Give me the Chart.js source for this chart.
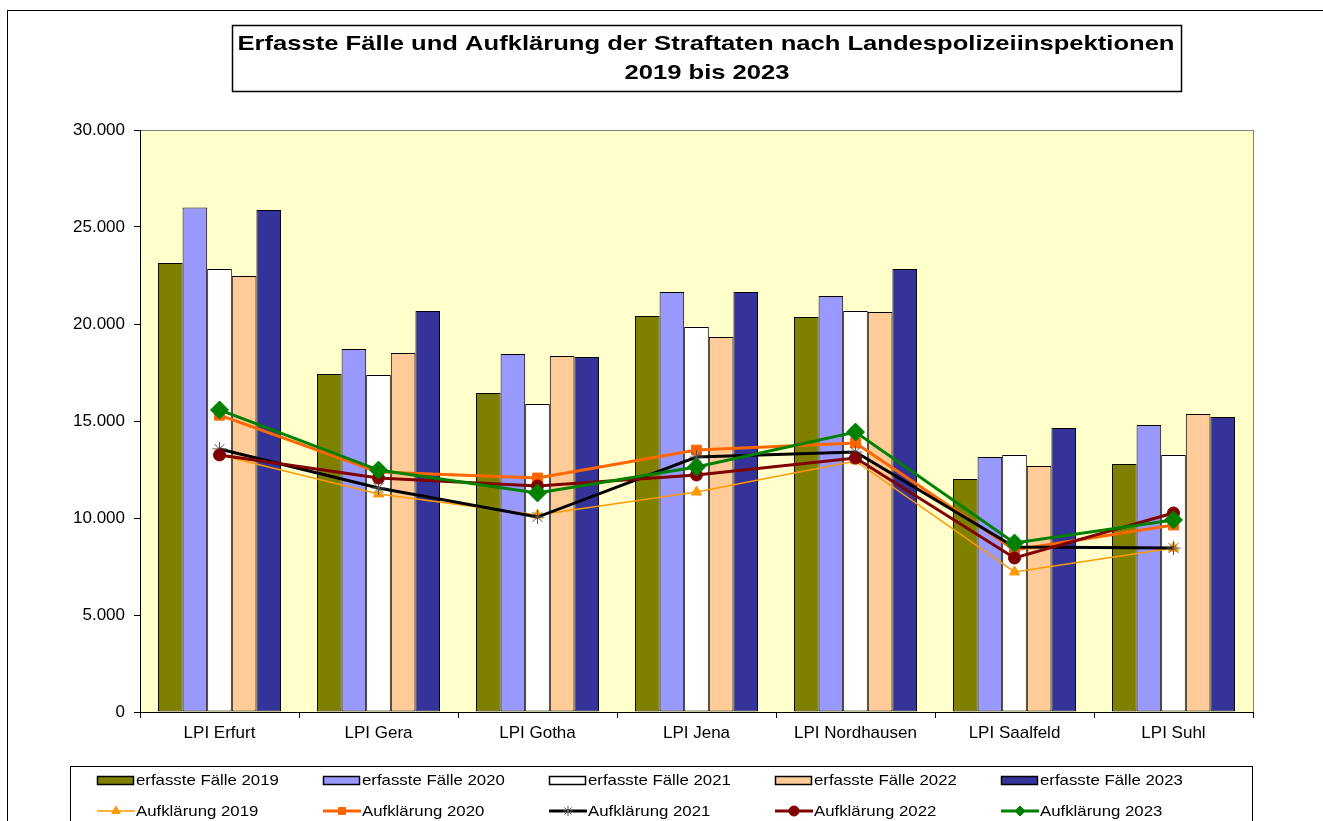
<!DOCTYPE html>
<html>
<head>
<meta charset="utf-8">
<script src="https://cdn.jsdelivr.net/npm/chart.js@4/dist/chart.umd.min.js"></script>
<style>
  body { margin: 0; background: #fff; }
  #wrap { position: relative; width: 1323px; height: 821px; }
</style>
</head>
<body>
<div id="wrap"><canvas id="lpi-chart" width="1323" height="821"></canvas></div>
<script>
// Kategorien und Werte
const labels = ['LPI Erfurt', 'LPI Gera', 'LPI Gotha', 'LPI Jena', 'LPI Nordhausen', 'LPI Saalfeld', 'LPI Suhl'];

const faelle2019 = [23150, 17420, 16440, 20410, 20360, 12010, 12780];
const faelle2020 = [26000, 18710, 18450, 21650, 21440, 13140, 14790];
const faelle2021 = [22840, 17370, 15880, 19850, 20670, 13250, 13250];
const faelle2022 = [22470, 18500, 18350, 19330, 20620, 12680, 15360];
const faelle2023 = [25880, 20670, 18300, 21650, 22840, 14640, 15210];

const aufkl2019 = [13250, 11240, 10150, 11340, 12940, 7220, 8450];
const aufkl2020 = [15300, 12370, 12060, 13500, 13870, 8350, 9640];
const aufkl2021 = [13560, 11550, 10050, 13140, 13400, 8500, 8450];
const aufkl2022 = [13250, 12060, 11650, 12220, 13090, 7940, 10260];
const aufkl2023 = [15570, 12470, 11290, 12630, 14430, 8710, 9900];

const yMin = 0, yMax = 30000, yStep = 5000;

const FONT = "'Liberation Sans', Arial, sans-serif";

function bar(label, values, color) {
    return {
        type: 'bar', label: label, data: values,
        backgroundColor: color, borderColor: '#000', borderWidth: 1,
        borderSkipped: false, order: 10
    };
}
function line(label, values, color, style, radius, width, order) {
    return {
        type: 'line', label: label, data: values,
        borderColor: color, backgroundColor: color, borderWidth: width,
        pointStyle: style, pointRadius: radius, pointBorderColor: style === 'star' ? '#555' : color,
        pointBorderWidth: 1, pointBackgroundColor: color, tension: 0, order: order
    };
}

const datasets = [
    bar('erfasste Fälle 2019', faelle2019, '#808000'),
    bar('erfasste Fälle 2020', faelle2020, '#9999FF'),
    bar('erfasste Fälle 2021', faelle2021, '#FFFFFF'),
    bar('erfasste Fälle 2022', faelle2022, '#FFCC99'),
    bar('erfasste Fälle 2023', faelle2023, '#333399'),
    line('Aufklärung 2019', aufkl2019, '#FF9900', 'triangle', 6, 1.5, 5),
    line('Aufklärung 2020', aufkl2020, '#FF6600', 'rect', 7, 3, 4),
    line('Aufklärung 2021', aufkl2021, '#000000', 'star', 7, 3, 3),
    line('Aufklärung 2022', aufkl2022, '#800000', 'circle', 6, 3, 2),
    line('Aufklärung 2023', aufkl2023, '#008000', 'rectRot', 9, 3, 1)
];

// Text horizontal gestreckt zeichnen (wie in der Vorlage)
function stretchText(ctx, text, x, y, sx) {
    ctx.save();
    ctx.translate(x, y);
    ctx.scale(sx, 1);
    ctx.fillText(text, 0, 0);
    ctx.restore();
}

// Hintergrund, Rahmen, Titel, Legende
const framePlugin = {
    id: 'frame',
    beforeDraw(chart) {
        const ctx = chart.ctx, a = chart.chartArea;
        ctx.save();
        ctx.fillStyle = '#fff';
        ctx.fillRect(0, 0, chart.width, chart.height);
        ctx.strokeStyle = '#000';
        ctx.lineWidth = 1;
        ctx.strokeRect(7.5, 10.5, 1400, 900);
        ctx.fillStyle = '#FFFFCC';
        ctx.fillRect(a.left, a.top, a.right - a.left, a.bottom - a.top);
        ctx.strokeStyle = '#808080';
        ctx.strokeRect(a.left + 0.5, a.top + 0.5, a.right - a.left, a.bottom - a.top);
        // Titel
        ctx.fillStyle = '#fff';
        ctx.fillRect(232, 25, 949, 66);
        ctx.strokeStyle = '#000';
        ctx.lineWidth = 1.5;
        ctx.strokeRect(232.5, 25.5, 949, 66);
        ctx.fillStyle = '#000';
        ctx.font = 'bold 21px ' + FONT;
        ctx.textAlign = 'center';
        ctx.textBaseline = 'middle';
        const t1 = 'Erfasste Fälle und Aufklärung der Straftaten nach Landespolizeiinspektionen';
        const w1 = ctx.measureText(t1).width;
        stretchText(ctx, t1, 706, 44, 937 / w1);
        stretchText(ctx, '2019 bis 2023', 707, 73, 937 / w1);
        ctx.restore();
    },
    afterDraw(chart) {
        const ctx = chart.ctx;
        ctx.save();
        ctx.fillStyle = '#fff';
        ctx.fillRect(70, 766, 1183, 80);
        ctx.strokeStyle = '#000';
        ctx.lineWidth = 1;
        ctx.strokeRect(70.5, 766.5, 1182, 80);
        ctx.font = '15px ' + FONT;
        ctx.textAlign = 'left';
        ctx.textBaseline = 'middle';
        chart.data.datasets.forEach((ds, i) => {
            const row = ds.type === 'bar' ? 0 : 1;
            const col = i % 5;
            const x = 97 + col * 226;
            const y = row === 0 ? 780 : 811;
            if (row === 0) {
                ctx.fillStyle = ds.backgroundColor;
                ctx.fillRect(x, y - 4, 36, 8);
                ctx.strokeStyle = '#000';
                ctx.lineWidth = 1.5;
                ctx.strokeRect(x + 0.5, y - 3.5, 36, 8);
            } else {
                ctx.strokeStyle = ds.borderColor;
                ctx.lineWidth = ds.borderWidth;
                ctx.beginPath();
                ctx.moveTo(x, y);
                ctx.lineTo(x + 38, y);
                ctx.stroke();
                ctx.fillStyle = ds.pointBackgroundColor;
                ctx.strokeStyle = ds.pointBorderColor;
                ctx.lineWidth = 1;
                Chart.helpers.drawPoint(ctx, {pointStyle: ds.pointStyle, radius: 5, borderWidth: 1, rotation: 0}, x + 19, y);
            }
            ctx.fillStyle = '#000';
            stretchText(ctx, ds.label, x + 39, y + 1, 1.12);
        });
        ctx.restore();
    }
};

function fmt(v) {
    return String(v).replace(/\B(?=(\d{3})+(?!\d))/g, '.');
}

new Chart(document.getElementById('lpi-chart'), {
    type: 'bar',
    data: { labels: labels, datasets: datasets },
    options: {
        responsive: false,
        animation: false,
        devicePixelRatio: 1,
        layout: { padding: { left: 0, top: 130, right: 70, bottom: 69 } },
        datasets: { bar: { categoryPercentage: 0.774, barPercentage: 1 } },
        plugins: { legend: { display: false }, tooltip: { enabled: false }, title: { display: false } },
        scales: {
            x: {
                afterFit(scale) { scale.height = 40; },
                grid: { display: true, drawOnChartArea: false, tickLength: 6, color: '#000', offset: true },
                border: { display: true, color: '#000', width: 1 },
                ticks: { color: '#000', font: { family: FONT, size: 17 }, padding: 5, maxRotation: 0 }
            },
            y: {
                min: yMin, max: yMax,
                afterFit(scale) { scale.width = 140; },
                grid: { display: true, drawOnChartArea: false, tickLength: 6, color: '#000' },
                border: { display: true, color: '#000', width: 1 },
                ticks: { stepSize: yStep, color: '#000', font: { family: FONT, size: 17 }, padding: 9,
                         callback: v => fmt(v) }
            }
        }
    },
    plugins: [framePlugin]
});
</script>
</body>
</html>
